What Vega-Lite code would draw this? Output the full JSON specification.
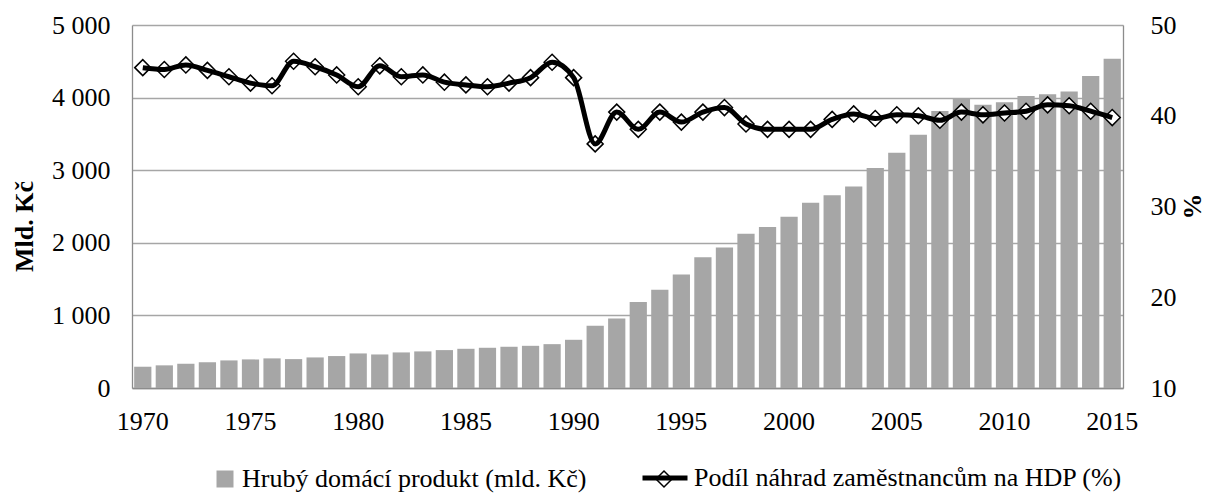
{
  "$schema": "https://vega.github.io/schema/vega-lite/v6.json",
  "width": 991,
  "height": 363,
  "autosize": "none",
  "padding": {"left": 132, "top": 25, "right": 82, "bottom": 105},
  "background": "white",
  "config": {
    "font": "Liberation Serif",
    "view": {"stroke": null},
    "axis": {"labelFontSize": 26, "labelColor": "black", "labelFont": "Liberation Serif", "titleFont": "Liberation Serif", "titleFontSize": 26, "titleColor": "black", "ticks": false, "domainColor": "#8c8c8c", "domainWidth": 1.3},
    "legend": {"labelFont": "Liberation Serif", "labelFontSize": 26, "labelColor": "black", "padding": 0, "labelLimit": 0}
  },
  "data": {"values": [
    {"year": 1970, "gdp": 293, "share": 45.3},
    {"year": 1971, "gdp": 312, "share": 45.1},
    {"year": 1972, "gdp": 334, "share": 45.6},
    {"year": 1973, "gdp": 353, "share": 45.0},
    {"year": 1974, "gdp": 380, "share": 44.3},
    {"year": 1975, "gdp": 394, "share": 43.6},
    {"year": 1976, "gdp": 408, "share": 43.3},
    {"year": 1977, "gdp": 398, "share": 46.0},
    {"year": 1978, "gdp": 421, "share": 45.4},
    {"year": 1979, "gdp": 440, "share": 44.5},
    {"year": 1980, "gdp": 476, "share": 43.2},
    {"year": 1981, "gdp": 462, "share": 45.5},
    {"year": 1982, "gdp": 490, "share": 44.3},
    {"year": 1983, "gdp": 504, "share": 44.5},
    {"year": 1984, "gdp": 522, "share": 43.7},
    {"year": 1985, "gdp": 540, "share": 43.4},
    {"year": 1986, "gdp": 554, "share": 43.2},
    {"year": 1987, "gdp": 568, "share": 43.6},
    {"year": 1988, "gdp": 581, "share": 44.2},
    {"year": 1989, "gdp": 604, "share": 45.9},
    {"year": 1990, "gdp": 664, "share": 44.2},
    {"year": 1991, "gdp": 859, "share": 36.9},
    {"year": 1992, "gdp": 959, "share": 40.4},
    {"year": 1993, "gdp": 1186, "share": 38.5},
    {"year": 1994, "gdp": 1355, "share": 40.4},
    {"year": 1995, "gdp": 1564, "share": 39.3},
    {"year": 1996, "gdp": 1800, "share": 40.4},
    {"year": 1997, "gdp": 1936, "share": 40.9},
    {"year": 1998, "gdp": 2123, "share": 39.1},
    {"year": 1999, "gdp": 2218, "share": 38.5},
    {"year": 2000, "gdp": 2359, "share": 38.5},
    {"year": 2001, "gdp": 2550, "share": 38.5},
    {"year": 2002, "gdp": 2655, "share": 39.6},
    {"year": 2003, "gdp": 2777, "share": 40.2},
    {"year": 2004, "gdp": 3032, "share": 39.7},
    {"year": 2005, "gdp": 3240, "share": 40.1},
    {"year": 2006, "gdp": 3490, "share": 40.0},
    {"year": 2007, "gdp": 3814, "share": 39.5},
    {"year": 2008, "gdp": 3990, "share": 40.4},
    {"year": 2009, "gdp": 3900, "share": 40.1},
    {"year": 2010, "gdp": 3936, "share": 40.3},
    {"year": 2011, "gdp": 4022, "share": 40.5},
    {"year": 2012, "gdp": 4045, "share": 41.2},
    {"year": 2013, "gdp": 4085, "share": 41.1},
    {"year": 2014, "gdp": 4298, "share": 40.5},
    {"year": 2015, "gdp": 4534, "share": 39.8}
  ]},
  "encoding": {
    "x": {
      "field": "year", "type": "ordinal",
      "scale": {"paddingInner": 0.2, "paddingOuter": 0.1},
      "axis": {"values": [1970, 1975, 1980, 1985, 1990, 1995, 2000, 2005, 2010, 2015], "labelAngle": 0, "labelPadding": 20, "title": null, "grid": false}
    }
  },
  "layer": [
    {
      "mark": {"type": "bar", "color": "#a6a6a6"},
      "encoding": {
        "y": {
          "field": "gdp", "type": "quantitative",
          "scale": {"domain": [0, 5000], "nice": false},
          "axis": {"orient": "left", "values": [0, 1000, 2000, 3000, 4000, 5000], "labelExpr": "replace(format(datum.value, ','), ',', ' ')", "labelPadding": 22, "grid": true, "gridColor": "#a6a6a6", "gridWidth": 1.3, "title": "Mld. Kč", "titleFontWeight": "bold", "titleAngle": -90, "titleX": -108, "titleY": 201, "titleAlign": "center", "titleBaseline": "middle"}
        },
        "color": {
          "datum": "Hrubý domácí produkt (mld. Kč)", "type": "nominal",
          "scale": {"range": ["#a6a6a6"]},
          "legend": {"orient": "none", "legendX": 80, "legendY": 441, "title": null, "symbolType": "square", "symbolSize": 289, "symbolStrokeWidth": 0, "labelOffset": 4}
        }
      }
    },
    {
      "mark": {"type": "point", "shape": "diamond", "filled": true, "stroke": "black", "strokeWidth": 1.5, "size": 256, "opacity": 1},
      "encoding": {
        "y": {
          "field": "share", "type": "quantitative",
          "scale": {"domain": [10, 50], "nice": false},
          "axis": {"orient": "right", "values": [10, 20, 30, 40, 50], "labelPadding": 27, "grid": false, "title": "%", "titleFontWeight": "bold", "titleAngle": -90, "titleX": 69, "titleY": 181, "titleAlign": "center", "titleBaseline": "middle"}
        },
        "fill": {
          "datum": "marker", "type": "nominal",
          "scale": {"range": ["white"]},
          "legend": {"orient": "none", "legendX": 523, "legendY": 445, "title": null, "symbolType": "diamond", "symbolSize": 256, "symbolFillColor": "white", "symbolStrokeColor": "black", "symbolStrokeWidth": 1.5, "labelExpr": "''", "labelFontSize": 1, "labelOffset": 0}
        }
      }
    },
    {
      "mark": {"type": "line", "strokeWidth": 5, "interpolate": "monotone"},
      "encoding": {
        "y": {"field": "share", "type": "quantitative", "scale": {"domain": [10, 50], "nice": false}, "axis": null},
        "stroke": {
          "datum": "Podíl náhrad zaměstnancům na HDP (%)", "type": "nominal",
          "scale": {"range": ["black"]},
          "legend": {"orient": "none", "legendX": 508, "legendY": 428, "title": null, "symbolType": "stroke", "symbolSize": 2025, "symbolStrokeWidth": 5, "symbolStrokeColor": "black", "labelOffset": 4}
        }
      }
    }
  ],
  "resolve": {"scale": {"y": "independent", "color": "independent", "fill": "independent", "stroke": "independent"}, "legend": {"color": "independent", "fill": "independent", "stroke": "independent"}}
}
